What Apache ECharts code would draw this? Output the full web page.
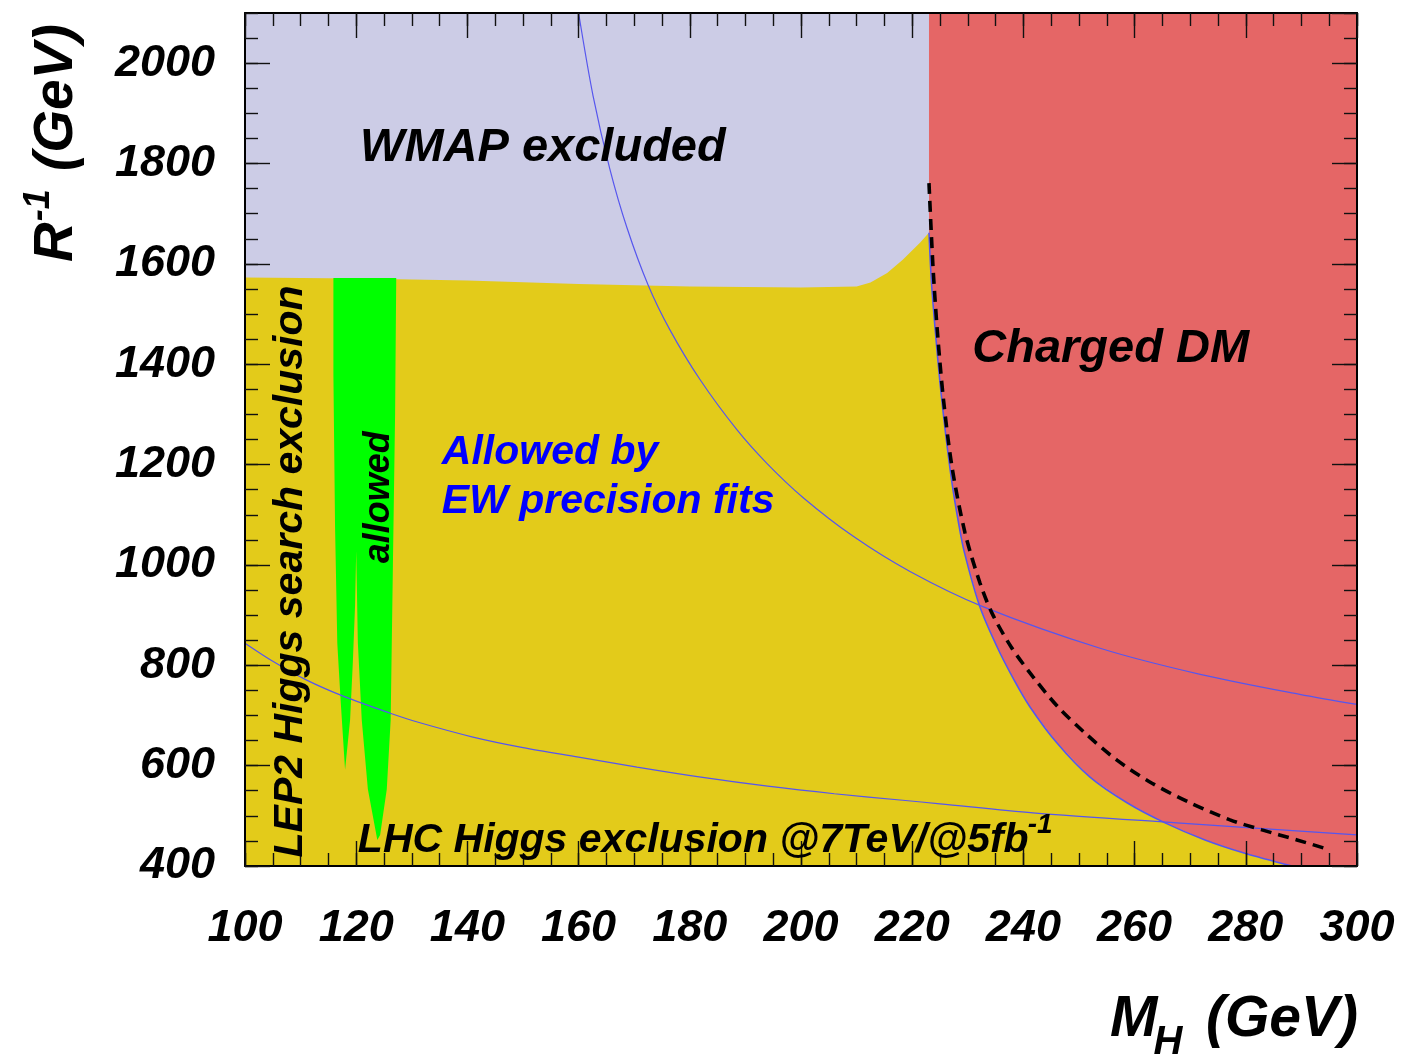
<!DOCTYPE html>
<html>
<head>
<meta charset="utf-8">
<script src="https://cdn.jsdelivr.net/npm/echarts@6/dist/echarts.min.js"></script>
<style>
  html, body { margin: 0; padding: 0; background: #fff; }
  #chart { width: 1404px; height: 1058px; }
</style>
</head>
<body>
<div id="chart"></div>
<script>
// ---- axis ranges (GeV) ----
const X_RANGE = [100, 300];
const Y_RANGE = [400, 2100];

// ---- region boundaries, [M_H, 1/R] ----
// upper edge of the EW-precision-allowed band, left to right
const ewTopEdge = [[100,1573],[120,1571],[140,1567],[160,1560],[180,1555],[200,1553],[210,1555],
  [212.5,1563],[215.5,1582],[218.3,1608],[221.4,1642],[223,1662]];
// charged dark-matter boundary, from the band top down to the x axis
const chargedEdge = [[223.02,1662],[223.47,1562],[224.19,1462],[225.0,1363],[225.99,1263],
  [227.16,1163],[228.33,1084],[229.41,1024],[232.19,916],[235.25,837],[238.31,771],[241.19,717],
  [246.04,645],[251.98,577],[258.63,526],[265.47,486],[272.66,452],[279.68,426],[288.3,400]];
// LHC-allowed window in M_H (two spikes)
const allowedWindow = [[115.9,1572],[127.2,1572],[127.0,1303],[126.6,998],[126.2,691],[125.5,553],
  [124.3,462],[123.8,452],[122.1,553],[121.0,691],[120.3,844],[120.0,1028],[119.8,920],[119.4,807],
  [118.9,691],[118.0,592],[117.2,730],[116.6,844],[116.2,1074],[115.9,1379]];
// dashed boundary
const dashedEdge = [[223.02,1761],[223.74,1594],[224.55,1462],[225.63,1329],[227.16,1195],
  [229.5,1064],[232.19,964],[234.35,904],[237.77,837],[241.73,777],[246.22,717],[251.08,665],
  [256.83,611],[263.13,565],[269.96,526],[277.16,492],[282.91,472],[289.21,452],[295.14,432]];
// thin blue contours
const upperContour = [[160,2100],[162.6,1935],[165.6,1790],[168.7,1672],[172.5,1558],[176.4,1469],
  [181.8,1370],[188.5,1269],[193.9,1202],[200.4,1134],[209.4,1057],[219.6,987],[232.7,917],
  [253.8,834],[271.8,782],[289.7,742],[300,722]];
const lowerContour = [[100,844],[105,808],[111,771],[118,737],[126,705],[131,687],[141,657],
  [150,636],[160,617],[170.5,597],[182,577],[194,559],[206,544],[218.3,531],[225,524],[241.7,506],
  [267.6,486],[300,462]];

// polygons built from the boundaries
const ewBand = [[100,400]].concat(ewTopEdge, chargedEdge.slice(1));
const chargedRegion = [[223.02,2100],[300,2100],[300,400]].concat(chargedEdge.slice().reverse());

const FONT = '"Liberation Sans", Arial, Helvetica, sans-serif';
const COLORS = { wmap: '#CCCCE6', ew: '#E3CB1A', charged: '#E56666', allowed: '#00FF00', contour: '#5656EE' };

function region(name, pts, color, z) {
  return {
    name, type: 'custom', coordinateSystem: 'cartesian2d', xAxisIndex: 0, yAxisIndex: 0,
    z, clip: true, silent: true, animation: false, data: pts,
    renderItem(params, api) {
      if (params.dataIndex !== 0) return null;
      return { type: 'polygon', shape: { points: pts.map(p => api.coord(p)) }, style: { fill: color } };
    }
  };
}
function curve(name, pts, lineStyle, z, smooth) {
  return {
    name, type: 'line', data: pts, xAxisIndex: 0, yAxisIndex: 0, z, clip: true,
    showSymbol: false, symbol: 'none', smooth: smooth, silent: true, animation: false, lineStyle
  };
}

const labelFont = { fontFamily: FONT, fontWeight: 'bold', fontStyle: 'italic', fontSize: 45, color: '#000' };
const tickStyle = { color: '#111', width: 1.4 };
function axis(dim, position, interval, tickLen, primary, withLabels) {
  const range = dim === 'x' ? X_RANGE : Y_RANGE;
  return {
    type: 'value', position, min: range[0], max: range[1], interval, z: 10,
    axisLine: { show: primary, onZero: false, lineStyle: { color: '#000', width: 2 } },
    axisTick: { show: true, inside: true, length: tickLen, lineStyle: tickStyle },
    axisLabel: withLabels
      ? Object.assign({ show: true, margin: dim === 'x' ? 40 : 30, showMaxLabel: dim === 'x',
          formatter: v => String(v) }, labelFont)
      : { show: false },
    splitLine: { show: false }
  };
}

const chart = echarts.init(document.getElementById('chart'), null, { renderer: 'canvas' });
chart.setOption({
  animation: false,
  grid: { left: 245, right: 47, top: 13, bottom: 192, show: true, backgroundColor: COLORS.wmap, borderWidth: 0 },
  xAxis: [
    axis('x', 'bottom', 20, 25, true, true),
    axis('x', 'bottom', 5, 13, false, false),
    axis('x', 'top', 20, 25, true, false),
    axis('x', 'top', 5, 13, false, false)
  ],
  yAxis: [
    axis('y', 'left', 200, 25, true, true),
    axis('y', 'left', 50, 13, false, false),
    axis('y', 'right', 200, 25, true, false),
    axis('y', 'right', 50, 13, false, false)
  ],
  series: [
    region('EW precision allowed', ewBand, COLORS.ew, 2),
    region('Charged DM', chargedRegion, COLORS.charged, 2),
    region('LHC allowed', allowedWindow, COLORS.allowed, 3),
    curve('upper contour', upperContour, { color: COLORS.contour, width: 1.2 }, 4, 0.3),
    curve('lower contour', lowerContour, { color: COLORS.contour, width: 1.2 }, 4, 0.3),
    curve('charged edge', chargedEdge, { color: COLORS.contour, width: 1.6 }, 4, 0.3),
    curve('dashed edge', dashedEdge, { color: '#000', width: 3.6, type: [11, 7] }, 5, 0.3)
  ]
});

// ---- text ----
const measureCtx = document.createElement('canvas').getContext('2d');
function textWidth(str, size) {
  measureCtx.font = 'italic bold ' + size + 'px ' + FONT;
  return measureCtx.measureText(str).width;
}
function txt(text, x, y, size, color, extra) {
  const el = {
    type: 'text', x, y, z: 100, silent: true,
    style: { text, fill: color || '#000', fontFamily: FONT, fontWeight: 'bold', fontStyle: 'italic',
      fontSize: size, align: 'left', verticalAlign: 'middle' }
  };
  if (extra) {
    if (extra.align) el.style.align = extra.align;
    if (extra.rotation) el.rotation = extra.rotation;
  }
  return el;
}
const toPx = p => chart.convertToPixel({ gridIndex: 0 }, p);

const graphics = [];
// annotations anchored in data coordinates
const notes = [
  { text: 'WMAP excluded', at: [120.7, 1831], size: 47, color: '#000' },
  { text: 'Charged DM', at: [230.8, 1430], size: 47, color: '#000' },
  { text: 'Allowed by', at: [135.4, 1223], size: 41, color: '#0000FF' },
  { text: 'EW precision fits', at: [135.4, 1127], size: 41, color: '#0000FF' }
];
notes.forEach(n => {
  const p = toPx(n.at);
  graphics.push(txt(n.text, p[0], p[1], n.size, n.color));
});
// LHC exclusion label with superscript
{
  const main = 'LHC Higgs exclusion @7TeV/@5fb';
  const p = toPx([120.3, 451]);
  graphics.push(txt(main, p[0], p[1], 41));
  graphics.push(txt('-1', p[0] + textWidth(main, 41) - 1, p[1] - 15, 28));
}
// vertical labels
{
  const p = toPx([108.1, 987]);
  graphics.push(txt('LEP2 Higgs search exclusion', p[0] + 1, p[1], 41, '#000',
    { rotation: Math.PI / 2, align: 'center' }));
  const q = toPx([124.2, 1135]);
  graphics.push(txt('allowed', q[0], q[1], 36, '#000', { rotation: Math.PI / 2, align: 'center' }));
}
// x axis title: M_H (GeV)
{
  const s = 57, sub = 40, y = 1020;
  graphics.push(txt('M', 1110, y, s));
  graphics.push(txt('H', 1110 + textWidth('M', s) - 4, y + 23, sub));
  graphics.push(txt('(GeV)', 1358, y, s, '#000', { align: 'right' }));
}
// y axis title: R^-1 (GeV), rotated
{
  const s = 55, sup = 36;
  const wR = textWidth('R', s);
  graphics.push({
    type: 'group', x: 57, y: 262, rotation: Math.PI / 2, z: 100,
    children: [
      txt('R', 0, 0, s),
      txt('-1', wR + 1, -18, sup),
      txt('(GeV)', wR + textWidth('-1', sup) + textWidth(' ', s) + 4, 0, s)
    ]
  });
}
chart.setOption({ graphic: graphics });
</script>
</body>
</html>
